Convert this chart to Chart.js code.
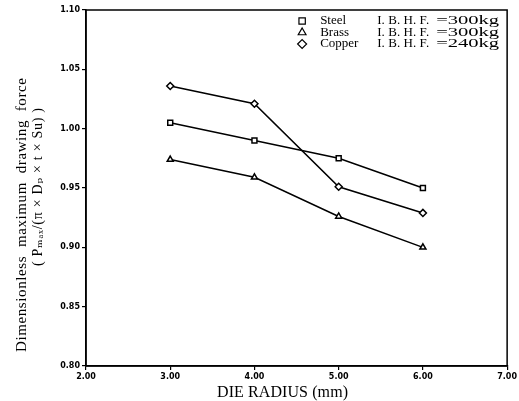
<!DOCTYPE html>
<html>
<head>
<meta charset="utf-8">
<script src="https://cdn.jsdelivr.net/npm/chart.js@4.4.0/dist/chart.umd.min.js"></script>
<style>
  html, body { margin: 0; padding: 0; background: #fff; }
  #wrap { width: 519px; height: 401px; }
</style>
</head>
<body>
<div id="wrap"><canvas id="chart" width="519" height="401"></canvas></div>
<script>
// die radius (mm)
const dieRadius = [3, 4, 5, 6];
const steelForce = [1.005, 0.990, 0.975, 0.950];
const brassForce = [0.974, 0.959, 0.926, 0.900];
const copperForce = [1.036, 1.021, 0.951, 0.929];
const seriesNames = ['Steel', 'Brass', 'Copper'];
const seriesNotes = ['I. B. H. F. =300kg', 'I. B. H. F. =300kg', 'I. B. H. F. =240kg'];
const pointStyles = ['rect', 'triangle', 'rectRot'];
const xTicks = [2, 3, 4, 5, 6, 7];
const yTicks = [0.80, 0.85, 0.90, 0.95, 1.00, 1.05, 1.10];
const xTitle = 'DIE RADIUS (mm)';
const yTitle = ['Dimensionless  maximum  drawing  force', '( Pₘₐₓ/(π × Dₚ × t × Su) )'];

const serif = '"Liberation Serif", "DejaVu Serif", serif';
const tickFont = { family: '"DejaVu Sans", sans-serif', size: 8, weight: 'bold' };

function toPoints(values) {
  return dieRadius.map((x, i) => ({ x: x, y: values[i] }));
}

function makeSet(label, values, style) {
  return {
    label: label,
    data: toPoints(values),
    borderColor: '#000',
    borderWidth: 1.5,
    backgroundColor: '#fff',
    pointStyle: style,
    pointRadius: 3.5,
    pointBorderWidth: 1.5,
    pointBorderColor: '#000',
    pointBackgroundColor: '#fff',
    tension: 0
  };
}

// stretch text with letter spacing so it spans the given width
function fitText(ctx, text, x, y, width) {
  ctx.letterSpacing = '0px';
  const w = ctx.measureText(text).width;
  const sp = Math.max(0, (width - w) / Math.max(1, text.length - 1));
  ctx.letterSpacing = sp + 'px';
  ctx.fillText(text, x, y);
  ctx.letterSpacing = '0px';
}

// widen text by scaling it horizontally
function wideText(ctx, text, x, y, width) {
  const w = ctx.measureText(text).width;
  ctx.save();
  ctx.translate(x, y);
  ctx.scale(width / w, 1);
  ctx.fillText(text, 0, 0);
  ctx.restore();
}

// frame, axis titles, legend
const framePlugin = {
  id: 'frame',
  afterDraw(chart) {
    const { ctx, chartArea } = chart;
    ctx.save();
    ctx.strokeStyle = '#000';
    ctx.lineWidth = 1.5;
    ctx.strokeRect(chartArea.left, chartArea.top, chartArea.right - chartArea.left, chartArea.bottom - chartArea.top);

    ctx.fillStyle = '#000';
    ctx.textBaseline = 'middle';

    // x title
    ctx.textAlign = 'left';
    ctx.font = '16px ' + serif;
    fitText(ctx, xTitle, 217, 393, 131);

    // y title, two rotated lines
    ctx.save();
    ctx.translate(22, 215);
    ctx.rotate(-Math.PI / 2);
    ctx.font = '15px ' + serif;
    fitText(ctx, yTitle[0], -137, 0, 274);
    ctx.restore();
    ctx.save();
    ctx.translate(38, 187);
    ctx.rotate(-Math.PI / 2);
    ctx.font = '14px ' + serif;
    fitText(ctx, yTitle[1], -79, 0, 158);
    ctx.restore();

    // legend
    const mx = chartArea.right - 205;
    seriesNames.forEach((name, i) => {
      const y = chartArea.top + 11 + i * 11.5;
      ctx.lineWidth = 1.2;
      ctx.strokeStyle = '#000';
      ctx.fillStyle = '#fff';
      Chart.helpers.drawPoint(ctx, { pointStyle: pointStyles[i], radius: 4.5, borderWidth: 1.2 }, mx, y);
      ctx.fillStyle = '#000';
      ctx.font = '13px ' + serif;
      ctx.fillText(name, mx + 18, y);
      const cut = seriesNotes[i].indexOf('=');
      fitText(ctx, seriesNotes[i].slice(0, cut).trim(), mx + 75, y, 52);
      wideText(ctx, seriesNotes[i].slice(cut), mx + 134, y, 63);
    });
    ctx.restore();
  }
};

new Chart(document.getElementById('chart'), {
  type: 'line',
  data: {
    datasets: [
      makeSet(seriesNames[0], steelForce, pointStyles[0]),
      makeSet(seriesNames[1], brassForce, pointStyles[1]),
      makeSet(seriesNames[2], copperForce, pointStyles[2])
    ]
  },
  options: {
    responsive: false,
    animation: false,
    layout: { padding: { top: 10, right: 11, left: 0, bottom: 0 } },
    plugins: {
      legend: { display: false },
      tooltip: { enabled: false }
    },
    scales: {
      x: {
        type: 'linear',
        min: 2,
        max: 7,
        afterBuildTicks: scale => { scale.ticks = xTicks.map(v => ({ value: v })); },
        afterFit: scale => { scale.height = 35; },
        grid: { display: true, drawOnChartArea: false, tickLength: 4, color: '#000', lineWidth: 1.2 },
        border: { display: true, color: '#000', width: 1.5 },
        ticks: {
          color: '#000',
          padding: 2,
          font: tickFont,
          callback: v => Number(v).toFixed(2)
        },
        title: { display: false }
      },
      y: {
        min: 0.80,
        max: 1.10,
        afterBuildTicks: scale => { scale.ticks = yTicks.map(v => ({ value: v })); },
        afterFit: scale => { scale.width = 86; },
        grid: { display: true, drawOnChartArea: false, tickLength: 4, color: '#000', lineWidth: 1.2 },
        border: { display: true, color: '#000', width: 1.5 },
        ticks: {
          color: '#000',
          padding: 2,
          font: tickFont,
          callback: v => Number(v).toFixed(2)
        },
        title: { display: false }
      }
    }
  },
  plugins: [framePlugin]
});
</script>
</body>
</html>
